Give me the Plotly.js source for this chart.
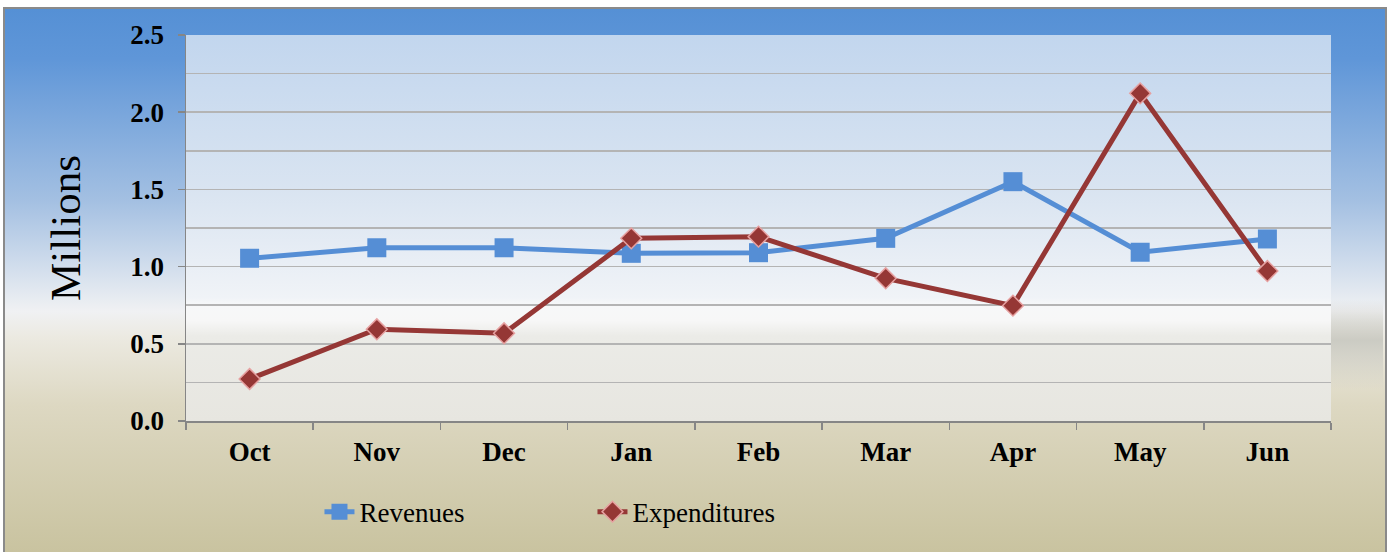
<!DOCTYPE html>
<html>
<head>
<meta charset="utf-8">
<script src="https://cdn.plot.ly/plotly-3.0.1.min.js"></script>
<style>
  html, body { margin: 0; padding: 0; background: #ffffff; }
  #wrap { position: relative; width: 1387px; height: 552px; overflow: hidden; }
  #paperbg {
    position: absolute; left: 3px; top: 7px; width: 1380px; height: 550px;
    border: 2px solid #8a8a8a;
    background: linear-gradient(to bottom,
      #5590d5 0%, #5f96d8 9%, #a4c0e2 35%, #dde5ef 50%, #f0f1f3 55%,
      #ebe9e0 60%, #ddd8c2 72%, #c8c29e 100%);
  }
  #plotbg {
    position: absolute; left: 186px; top: 35px; width: 1145px; height: 386px;
    background: linear-gradient(to bottom,
      #c2d6ee 0%, #d9e4f1 40%, #f0f3f7 68%, #f7f8f9 70%, #f7f7f7 74%,
      #ebebe7 78%, #e7e6e0 100%);
  }
  #sideshadow {
    position: absolute; left: 1331px; top: 300px; width: 52px; height: 90px;
    background: linear-gradient(to bottom, rgba(200,200,192,0) 0%, rgba(200,200,192,0.9) 45%, rgba(200,200,192,0) 100%);
  }
  #chart { position: absolute; left: 0; top: 0; width: 1387px; height: 552px; }
</style>
</head>
<body>
<div id="wrap">
  <div id="paperbg"></div>
  <div id="sideshadow"></div>
  <div id="plotbg"></div>
  <div id="chart"></div>
</div>
<script>
const months = ["Oct", "Nov", "Dec", "Jan", "Feb", "Mar", "Apr", "May", "Jun"];
const revenues = [1.054, 1.122, 1.122, 1.086, 1.09, 1.183, 1.55, 1.093, 1.179];
const expenditures = [0.272, 0.594, 0.568, 1.183, 1.194, 0.924, 0.747, 2.122, 0.971];
const seriesNames = ["Revenues", "Expenditures"];

const serif = "'Liberation Serif', 'Times New Roman', serif";

const traces = [
  {
    x: months, y: revenues, name: seriesNames[0], type: "scatter", mode: "lines+markers",
    line: { color: "#558ed5", width: 5 },
    marker: { symbol: "square", size: 19, color: "#558ed5", line: { width: 0 } }
  },
  {
    x: months, y: expenditures, name: seriesNames[1], type: "scatter", mode: "lines+markers",
    line: { color: "#953735", width: 5 },
    marker: { symbol: "diamond", size: 16, color: "#953735", line: { color: "#e6a0a0", width: 1.5 } }
  }
];

const layout = {
  width: 1387, height: 552,
  margin: { l: 186, r: 56, t: 35, b: 131 },
  paper_bgcolor: "rgba(0,0,0,0)",
  plot_bgcolor: "rgba(0,0,0,0)",
  font: { family: serif, color: "#000000" },
  showlegend: true,
  legend: {
    orientation: "h", x: 0.355, xanchor: "center", y: -0.236, yanchor: "middle",
    font: { family: serif, size: 27, color: "#000000" },
    bgcolor: "rgba(0,0,0,0)", entrywidth: 228, entrywidthmode: "pixels"
  },
  xaxis: {
    type: "category", range: [-0.5, 8.5], tickson: "boundaries", ticks: "outside", ticklen: 7, tickwidth: 1.5,
    tickcolor: "#868686", showline: true, linecolor: "#868686", linewidth: 1.5,
    showgrid: false, zeroline: false,
    tickfont: { family: serif, size: 27, color: "#000000", weight: "bold" },
    ticklabelstandoff: 6,
    fixedrange: true
  },
  yaxis: {
    range: [0, 2.5], dtick: 0.5, tick0: 0, tickformat: ".1f",
    ticks: "outside", ticklen: 7, tickwidth: 1.5, tickcolor: "#868686",
    showline: true, linecolor: "#868686", linewidth: 1.5,
    showgrid: true, gridcolor: "#b4b4b4", gridwidth: 1.5, zeroline: false,
    minor: { dtick: 0.25, showgrid: true, gridcolor: "#b4b4b4", gridwidth: 1.5, ticks: "" },
    tickfont: { family: serif, size: 27, color: "#000000", weight: "bold" },
    ticklabelstandoff: 8,
    title: { text: "Millions", font: { family: serif, size: 43, color: "#000000" }, standoff: 36 },
    fixedrange: true
  }
};

Plotly.newPlot("chart", traces, layout, { displayModeBar: false, staticPlot: true });
</script>
</body>
</html>
